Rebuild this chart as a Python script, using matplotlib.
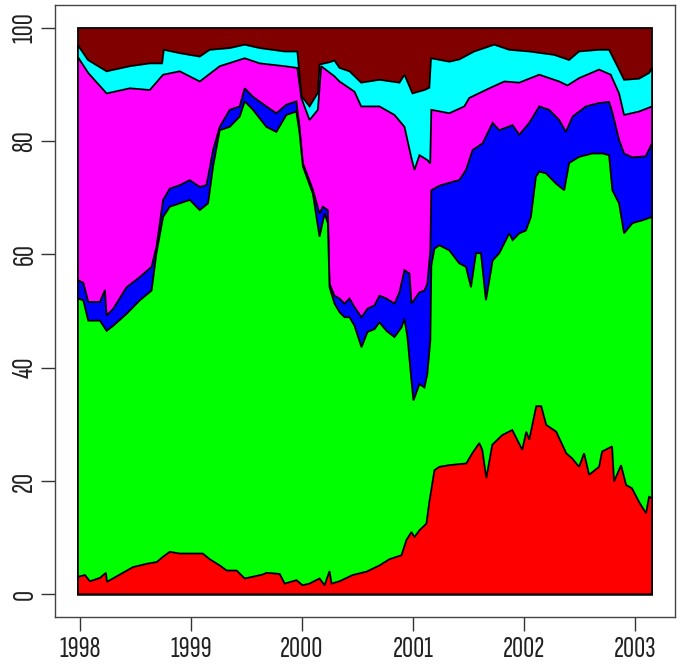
import matplotlib
matplotlib.use("Agg")
import matplotlib.pyplot as plt
import numpy as np

# decimal years (offset from 1998) and cumulative percentage
red_x = [-0.018, 0.045, 0.090, 0.180, 0.234, 0.243, 0.360, 0.477, 0.603, 0.692, 0.746, 0.809, 0.899, 1.016,
         1.106, 1.169, 1.259, 1.322, 1.412, 1.484, 1.556, 1.646, 1.682, 1.799, 1.844, 1.951, 2.005, 2.068,
         2.158, 2.203, 2.248, 2.266, 2.338, 2.455, 2.581, 2.698, 2.788, 2.896, 2.941, 2.986, 3.013, 3.058,
         3.121, 3.147, 3.193, 3.237, 3.327, 3.480, 3.534, 3.597, 3.624, 3.660, 3.714, 3.804, 3.894, 3.984,
         4.020, 4.047, 4.110, 4.155, 4.200, 4.290, 4.380, 4.433, 4.496, 4.541, 4.586, 4.676, 4.703, 4.793,
         4.811, 4.874, 4.919, 4.973, 5.036, 5.099, 5.126, 5.153]
red_y = [3.1, 3.4, 2.3, 2.9, 3.8, 2.2, 3.5, 4.8, 5.4, 5.7, 6.6, 7.5, 7.2, 7.2,
         7.2, 6.2, 5.1, 4.2, 4.2, 2.8, 3.1, 3.5, 3.8, 3.6, 1.9, 2.5, 1.6, 1.9,
         2.8, 1.6, 4.1, 1.9, 2.3, 3.4, 4.0, 5.1, 6.2, 6.9, 9.6, 11.0, 10.1, 11.3,
         12.5, 16.3, 21.9, 22.5, 22.8, 23.1, 24.9, 26.7, 25.5, 20.5, 26.4, 28.1, 29.0, 25.5,
         28.7, 27.3, 33.2, 33.2, 29.9, 28.7, 24.9, 24.0, 22.5, 24.9, 21.1, 22.5, 25.2, 26.1,
         19.9, 22.8, 19.3, 18.7, 16.3, 14.3, 17.2, 17.0]

green_x = [-0.018, 0.030, 0.075, 0.180, 0.240, 0.300, 0.420, 0.540, 0.645, 0.689, 0.749, 0.809, 0.899, 0.989,
           1.079, 1.154, 1.199, 1.259, 1.349, 1.439, 1.484, 1.559, 1.679, 1.769, 1.859, 1.949, 1.978, 2.008,
           2.098, 2.158, 2.203, 2.233, 2.248, 2.293, 2.338, 2.383, 2.428, 2.473, 2.536, 2.590, 2.653, 2.698,
           2.761, 2.833, 2.896, 2.923, 2.950, 2.986, 3.004, 3.058, 3.103, 3.129, 3.156, 3.165, 3.193, 3.237,
           3.327, 3.417, 3.477, 3.522, 3.567, 3.612, 3.657, 3.717, 3.777, 3.867, 3.897, 3.957, 4.017, 4.062,
           4.107, 4.137, 4.197, 4.287, 4.362, 4.406, 4.496, 4.616, 4.706, 4.766, 4.796, 4.856, 4.901, 4.976,
           5.066, 5.153]
green_y = [52.2, 51.9, 48.3, 48.3, 46.5, 47.4, 49.5, 51.9, 53.6, 60.2, 66.6, 68.4, 69.0, 69.6,
           67.8, 69.0, 75.5, 81.9, 82.5, 84.3, 87.0, 85.5, 82.5, 81.6, 84.6, 85.2, 81.4, 75.5,
           70.7, 63.1, 67.2, 65.5, 54.2, 51.3, 49.8, 48.9, 48.9, 47.4, 43.6, 46.3, 46.8, 48.0,
           46.5, 45.4, 47.1, 48.6, 45.4, 37.7, 34.2, 37.1, 36.5, 38.9, 44.8, 58.0, 61.0, 61.6,
           60.7, 58.4, 57.8, 54.2, 60.2, 60.2, 51.9, 58.9, 60.2, 63.7, 62.5, 63.7, 64.2, 66.6,
           73.7, 74.6, 74.3, 72.5, 71.3, 76.1, 77.2, 77.8, 77.8, 77.5, 71.3, 69.0, 63.7, 65.5,
           66.0, 66.6]

blue_x = [-0.018, 0.030, 0.075, 0.180, 0.225, 0.240, 0.300, 0.420, 0.540, 0.645, 0.689, 0.749, 0.809, 0.899,
          0.989, 1.079, 1.139, 1.169, 1.199, 1.259, 1.349, 1.439, 1.484, 1.559, 1.679, 1.769, 1.859, 1.949,
          1.978, 2.008, 2.098, 2.158, 2.188, 2.233, 2.248, 2.293, 2.338, 2.383, 2.428, 2.473, 2.536, 2.590,
          2.653, 2.698, 2.761, 2.833, 2.878, 2.923, 2.968, 2.986, 3.058, 3.103, 3.129, 3.156, 3.165, 3.237,
          3.357, 3.417, 3.477, 3.537, 3.627, 3.717, 3.777, 3.897, 3.957, 4.047, 4.137, 4.227, 4.317, 4.377,
          4.437, 4.557, 4.676, 4.766, 4.796, 4.856, 4.901, 4.976, 5.096, 5.153]
blue_y = [55.4, 55.0, 51.6, 51.6, 53.7, 49.2, 50.4, 54.2, 56.0, 57.8, 61.3, 69.6, 71.6, 72.2,
          73.1, 71.9, 72.2, 75.2, 78.4, 82.5, 85.5, 86.1, 89.3, 87.8, 86.1, 84.9, 86.4, 87.0,
          82.5, 76.1, 71.4, 67.2, 68.4, 67.8, 54.8, 52.7, 52.2, 51.3, 52.2, 50.7, 48.9, 50.4,
          51.0, 52.7, 52.2, 51.3, 53.3, 57.2, 56.6, 51.3, 53.3, 53.6, 54.8, 60.7, 71.3, 72.1,
          72.8, 73.1, 74.9, 78.4, 79.6, 83.2, 81.9, 82.8, 81.1, 83.2, 86.1, 85.5, 83.7, 81.6,
          84.3, 86.1, 86.7, 86.9, 85.0, 80.2, 77.8, 77.1, 77.3, 79.6]

magenta_x = [-0.018, 0.075, 0.240, 0.450, 0.629, 0.749, 0.899, 1.079, 1.259, 1.484, 1.619, 1.844, 1.958, 1.994,
             2.068, 2.143, 2.173, 2.293, 2.338, 2.473, 2.533, 2.698, 2.833, 2.923, 2.983, 3.013, 3.058, 3.132,
             3.155, 3.165, 3.327, 3.462, 3.507, 3.687, 3.822, 3.957, 4.137, 4.317, 4.391, 4.496, 4.676, 4.781,
             4.856, 4.901, 5.036, 5.153]
magenta_y = [94.8, 92.0, 88.4, 89.3, 89.0, 91.7, 92.3, 90.5, 93.2, 94.6, 93.7, 93.2, 92.9, 87.6,
             83.7, 85.5, 93.2, 91.4, 90.5, 88.7, 86.1, 86.1, 84.6, 82.5, 77.2, 74.9, 77.5, 76.6,
             76.0, 85.5, 84.9, 86.1, 87.6, 89.3, 90.5, 90.3, 91.7, 90.5, 89.8, 91.1, 92.6, 91.7,
             88.4, 84.6, 85.2, 86.1]

cyan_x = [-0.018, 0.072, 0.240, 0.450, 0.629, 0.740, 0.755, 0.899, 1.079, 1.169, 1.349, 1.484, 1.619, 1.844,
          1.958, 1.996, 2.068, 2.143, 2.158, 2.248, 2.293, 2.338, 2.428, 2.533, 2.698, 2.878, 2.923, 2.995,
          3.103, 3.147, 3.162, 3.327, 3.417, 3.552, 3.732, 3.867, 4.047, 4.272, 4.406, 4.496, 4.676, 4.766,
          4.856, 4.901, 5.036, 5.126, 5.153]
cyan_y = [96.9, 94.3, 92.3, 93.2, 93.7, 93.7, 96.1, 95.5, 94.9, 96.1, 96.4, 97.0, 96.4, 95.8,
          95.8, 87.9, 86.1, 88.5, 93.5, 93.9, 94.2, 92.9, 92.3, 90.3, 90.8, 90.3, 91.7, 88.4,
          89.0, 89.4, 94.6, 94.0, 94.4, 95.8, 97.0, 96.1, 95.8, 95.2, 94.3, 95.8, 96.1, 96.1,
          92.6, 90.8, 91.0, 92.0, 92.9]

layers = [
    (None, None, "#800000"),
    (cyan_x, cyan_y, "#00FFFF"),
    (magenta_x, magenta_y, "#FF00FF"),
    (blue_x, blue_y, "#0000FF"),
    (green_x, green_y, "#00FF00"),
    (red_x, red_y, "#FF0000"),
]

plt.rcParams['font.family'] = ['Sofia Sans Extra Condensed', 'Roboto Condensed', 'DejaVu Sans']

fig = plt.figure(figsize=(6.8, 6.68), dpi=100)
ax = fig.add_axes([55 / 680, 51 / 668, 620 / 680, 612 / 668])

x0 = 1998 + red_x[0]
x1 = 1998 + red_x[-1]
for xs, ys, col in layers:
    if xs is None:
        px = [x0, x0, x1, x1]
        py = [0, 100, 100, 0]
    else:
        xs = 1998 + np.array(xs)
        px = np.concatenate([[xs[0]], xs, [xs[-1]]])
        py = np.concatenate([[0], ys, [0]])
    ax.fill(px, py, facecolor=col, edgecolor="black", linewidth=1.3)

span = x1 - x0
ax.set_xlim(x0 - 0.04 * span, x1 + 0.04 * span)
ax.set_ylim(-4, 104)

ax.set_xticks(range(1998, 2004))
ax.set_yticks(range(0, 101, 20))
for lab in ax.get_yticklabels():
    lab.set_rotation(90)
    lab.set_va("center")
ax.tick_params(axis="both", length=10, width=1, color="#333333", labelsize=22, labelcolor="#222222")
ax.tick_params(axis="x", pad=4)
ax.tick_params(axis="y", pad=2)
for s in ax.spines.values():
    s.set_color("#444444")
    s.set_linewidth(1)

plt.savefig("out.png", dpi=100)
